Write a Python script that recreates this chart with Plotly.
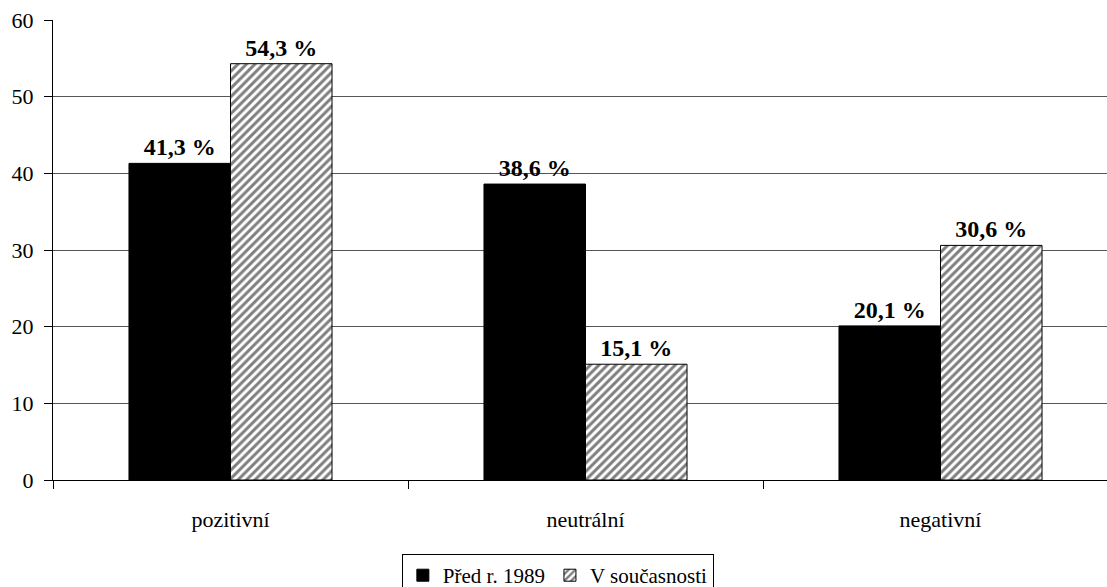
import plotly.graph_objects as go

categories = ["pozitivní", "neutrální", "negativní"]
series_names = ["Před r. 1989", "V současnosti"]
before_1989 = [41.3, 38.6, 20.1]
present = [54.3, 15.1, 30.6]
y_ticks = [0, 10, 20, 30, 40, 50, 60]

FONT = "Liberation Serif"


def pct_labels(values):
    return [f"{v:.1f}".replace(".", ",") + " %" for v in values]


label_font = dict(family=FONT, size=24, color="black", weight="bold")

fig = go.Figure()
fig.add_trace(go.Bar(
    name=series_names[0],
    x=categories,
    y=before_1989,
    marker=dict(color="black", line=dict(color="black", width=1)),
    text=pct_labels(before_1989),
    textposition="outside",
    textfont=label_font,
    cliponaxis=False,
))
fig.add_trace(go.Bar(
    name=series_names[1],
    x=categories,
    y=present,
    marker=dict(
        color="white",
        line=dict(color="black", width=1),
        pattern=dict(shape="/", fgcolor="black", bgcolor="white", size=6, solidity=0.5),
    ),
    text=pct_labels(present),
    textposition="outside",
    textfont=label_font,
    cliponaxis=False,
))

fig.update_layout(
    width=1107,
    height=587,
    margin=dict(l=53, r=0, t=20, b=107, autoexpand=False),
    paper_bgcolor="white",
    plot_bgcolor="white",
    barmode="group",
    bargap=0.428,
    bargroupgap=0,
    font=dict(family=FONT, color="black"),
    showlegend=True,
    legend=dict(
        orientation="h",
        x=0.479,
        xanchor="center",
        y=-0.161,
        yanchor="top",
        bordercolor="black",
        borderwidth=1,
        font=dict(family=FONT, size=21, color="black"),
        itemwidth=30,
        tracegroupgap=0,
    ),
    xaxis=dict(
        range=[-0.5, 2.469],
        showline=True,
        linecolor="black",
        linewidth=1,
        ticks="outside",
        tickson="boundaries",
        ticklen=8,
        tickcolor="black",
        showgrid=False,
        tickfont=dict(family=FONT, size=22, color="black"),
        ticklabelstandoff=20,
    ),
    yaxis=dict(
        range=[0, 60],
        tickvals=y_ticks,
        showline=True,
        linecolor="black",
        linewidth=1,
        ticks="outside",
        ticklen=8,
        tickcolor="black",
        showgrid=True,
        gridcolor="#555555",
        gridwidth=1,
        zeroline=False,
        tickfont=dict(family=FONT, size=22, color="black"),
        ticklabelstandoff=6,
    ),
)

fig.write_html("out.html")
